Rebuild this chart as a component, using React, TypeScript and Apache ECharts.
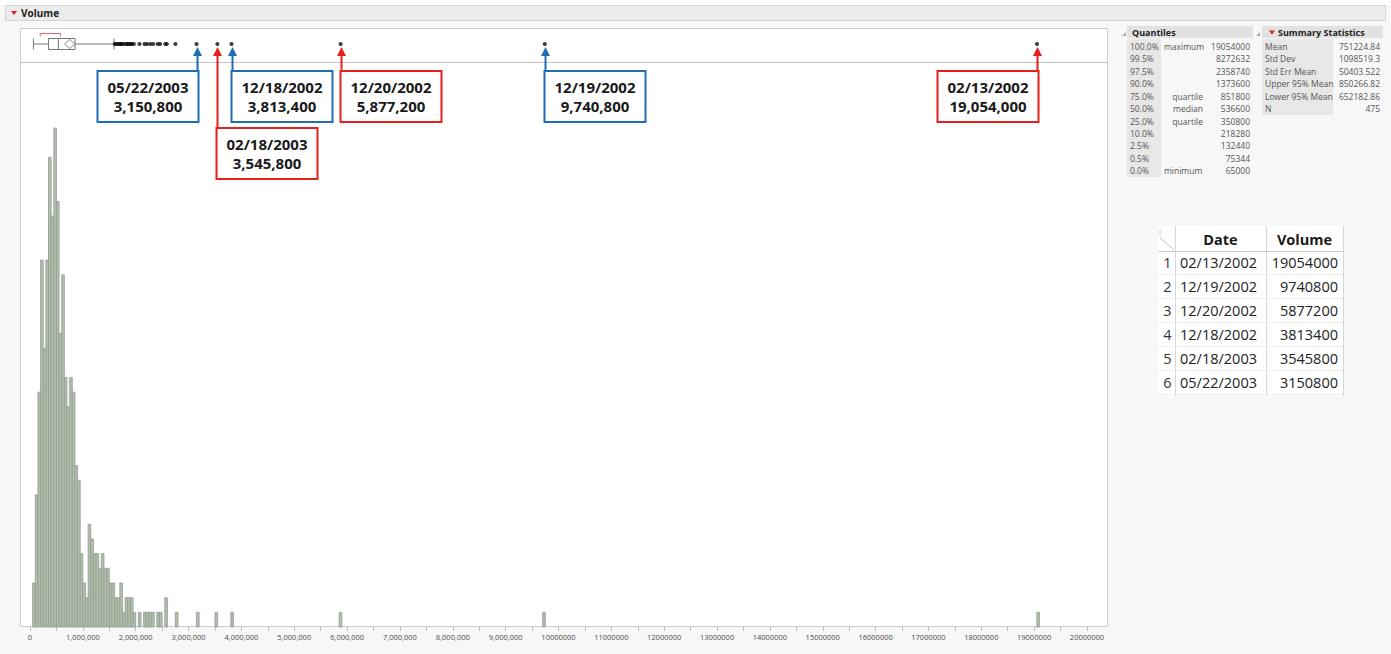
import React, { useEffect, useRef } from 'react';
import * as echarts from 'echarts';

// ---------- DATA ----------
const BIN_WIDTH = 50000;
// histogram counts per 50,000 bin, starting at 0 (bins 0 .. 55)
const binCounts = [
  0, 3, 9, 16, 25, 19, 25, 32, 28, 34,
  29, 20, 24, 17, 15, 17, 16, 11, 10, 5,
  3, 2, 7, 6, 5, 5, 4, 5, 4, 4,
  3, 3, 2, 2, 3, 1, 2, 2, 2, 1,
  0, 1, 0, 1, 1, 1, 1, 0, 1, 1,
  0, 2, 0, 0, 0, 1,
];
// isolated bins far in the tail
const farBinStarts = [3150000, 3500000, 3800000, 5850000, 9700000, 19050000];
const farBinCounts = [1, 1, 1, 1, 1, 1];

// box plot: min whisker, Q1, median, Q3, upper whisker
const boxStats = [65000, 350800, 536600, 851800, 1590000];
const meanValue = 751224.84;
const shortestHalf = [195000, 575000];
const outliers = [
  1605000, 1622000, 1655000, 1688000, 1702000, 1718000, 1745000, 1760000,
  1812000, 1838000, 1851000, 1887000, 1903000, 1928000, 1965000, 2071000,
  2168000, 2213000, 2276000, 2330000, 2418000, 2462000, 2561000, 2588000,
  2752000, 3150800, 3545800, 3813400, 5877200, 9740800, 19054000,
];

const calloutDates = ['05/22/2003', '02/18/2003', '12/18/2002', '12/20/2002', '12/19/2002', '02/13/2002'];
const calloutVolumes = [3150800, 3545800, 3813400, 5877200, 9740800, 19054000];

const quantileLevels = ['100.0%', '99.5%', '97.5%', '90.0%', '75.0%', '50.0%', '25.0%', '10.0%', '2.5%', '0.5%', '0.0%'];
const quantileNames = ['maximum', '', '', '', 'quartile', 'median', 'quartile', '', '', '', 'minimum'];
const quantileValues = ['19054000', '8272632', '2358740', '1373600', '851800', '536600', '350800', '218280', '132440', '75344', '65000'];

const summaryLabels = ['Mean', 'Std Dev', 'Std Err Mean', 'Upper 95% Mean', 'Lower 95% Mean', 'N'];
const summaryValues = ['751224.84', '1098519.3', '50403.522', '850266.82', '652182.86', '475'];

const tableDates = ['02/13/2002', '12/19/2002', '12/20/2002', '12/18/2002', '02/18/2003', '05/22/2003'];
const tableVolumes = [19054000, 9740800, 5877200, 3813400, 3545800, 3150800];

// ---------- STYLE ----------
const BLUE = '#1f6db5';
const RED = '#e3201c';
const CALLOUT_STYLE = [
  { side: 'right', row: 0, color: BLUE },
  { side: 'left', row: 1, color: RED },
  { side: 'left', row: 0, color: BLUE },
  { side: 'left', row: 0, color: RED },
  { side: 'left', row: 0, color: BLUE },
  { side: 'right', row: 0, color: RED },
];
const FONT = '"Open Sans", "Noto Sans", sans-serif';

function fmtAxis(v: number): string {
  if (v < 10000000) return v.toLocaleString('en-US');
  return String(v);
}

function txt(x: number, y: number, text: string, o: any = {}) {
  return {
    type: 'text',
    x,
    y,
    silent: true,
    z: 5,
    style: {
      text,
      fill: o.fill || '#555',
      fontSize: o.size || 8.5,
      fontWeight: o.bold ? 'bold' : 'normal',
      fontFamily: FONT,
      align: o.align || 'left',
      verticalAlign: 'middle',
    },
  };
}
function rect(x: number, y: number, w: number, h: number, fill: string, stroke?: string, z = 1) {
  return {
    type: 'rect',
    silent: true,
    z,
    shape: { x, y, width: w, height: h },
    style: { fill, stroke: stroke || null, lineWidth: 1 },
  };
}
function line(x1: number, y1: number, x2: number, y2: number, stroke: string, z = 2) {
  return {
    type: 'line',
    silent: true,
    z,
    shape: { x1, y1, x2, y2 },
    style: { stroke, lineWidth: 1 },
  };
}

function buildGraphics() {
  const els: any[] = [];
  // top white strip + header bar
  els.push(rect(0, 0, 1391, 5, '#ffffff', undefined, 0));
  els.push(rect(5.5, 5.5, 1380, 15, '#ececec', '#d4d4d4', 1));
  els.push({ type: 'polygon', silent: true, z: 3, shape: { points: [[11, 11], [17, 11], [14, 15]] }, style: { fill: '#d42020' } });
  els.push(txt(21, 13, 'Volume', { bold: true, size: 10, fill: '#222' }));

  // plot frame
  els.push(rect(20.5, 28.5, 1087, 598, '#ffffff', '#cccccc', 0));
  els.push(line(20.5, 62.5, 1107.5, 62.5, '#c4c4c4', 1));

  // Quantiles panel
  els.push({ type: 'polygon', silent: true, z: 3, shape: { points: [[1122, 36], [1126, 32], [1126, 36]] }, style: { fill: '#aaa' } });
  els.push(rect(1127, 26, 126, 12, '#e2e2e2'));
  els.push(txt(1132, 32, 'Quantiles', { bold: true, size: 9, fill: '#222' }));
  els.push(rect(1127, 39, 34, 138, '#e7e7e7'));
  const qStart = 46.3;
  const qStep = 12.45;
  quantileLevels.forEach((lv, i) => {
    const y = qStart + i * qStep;
    els.push(txt(1130, y, lv));
    if (quantileNames[i]) {
      const isEdge = quantileNames[i] === 'maximum' || quantileNames[i] === 'minimum';
      els.push(txt(isEdge ? 1164 : 1203, y, quantileNames[i], { align: isEdge ? 'left' : 'right' }));
    }
    els.push(txt(1250, y, quantileValues[i], { align: 'right' }));
  });

  // Summary Statistics panel
  els.push({ type: 'polygon', silent: true, z: 3, shape: { points: [[1256, 36], [1260, 32], [1260, 36]] }, style: { fill: '#aaa' } });
  els.push(rect(1262, 26, 121, 12, '#e2e2e2'));
  els.push({ type: 'polygon', silent: true, z: 3, shape: { points: [[1269, 30.5], [1275, 30.5], [1272, 34.5]] }, style: { fill: '#d42020' } });
  els.push(txt(1278, 32, 'Summary Statistics', { bold: true, size: 9, fill: '#222' }));
  els.push(rect(1262, 39, 71, 76, '#e7e7e7'));
  summaryLabels.forEach((lb, i) => {
    const y = qStart + i * qStep;
    els.push(txt(1265, y, lb));
    els.push(txt(1380, y, summaryValues[i], { align: 'right' }));
  });

  // Data table
  const tL = 1158;
  const tR = 1343;
  const tTop = 226;
  const tBot = 396;
  const c1 = 1175;
  const c2 = 1266;
  els.push(rect(tL, tTop, tR - tL, tBot - tTop, '#ffffff', undefined, 1));
  els.push(line(c1 + 0.5, tTop, c1 + 0.5, tBot, '#d6d6d6'));
  els.push(line(c2 + 0.5, tTop, c2 + 0.5, tBot, '#d6d6d6'));
  els.push(line(tR + 0.5, tTop, tR + 0.5, tBot, '#d6d6d6'));
  els.push(line(tL, 251.5, tR, 251.5, '#c8c8c8'));
  els.push(line(tL + 2, 238, c1 - 1, 250, '#c0c0c0'));
  els.push(line(tL + 2, 229, tL + 2, 236, '#c8c8c8'));
  els.push(txt((c1 + c2) / 2, 239, 'Date', { bold: true, size: 14.5, fill: '#1a1a1a', align: 'center' }));
  els.push(txt((c2 + tR) / 2, 239, 'Volume', { bold: true, size: 14.5, fill: '#1a1a1a', align: 'center' }));
  tableDates.forEach((d, i) => {
    const y = 262.5 + i * 24;
    els.push(line(tL, y + 12, tR, y + 12, '#ececec'));
    els.push(txt((tL + c1) / 2 + 1, y, String(i + 1), { size: 14.5, fill: '#333', align: 'center' }));
    els.push(txt(1180, y, d, { size: 14.5, fill: '#222' }));
    els.push(txt(1338, y, String(tableVolumes[i]), { size: 14.5, fill: '#222', align: 'right' }));
  });
  return els;
}

export default function App() {
  const ref = useRef<HTMLDivElement>(null);

  useEffect(() => {
    document.body.style.margin = '0';
    if (!ref.current) return;
    const chart = echarts.init(ref.current, undefined, { renderer: 'svg' });

    const histData: number[][] = [];
    binCounts.forEach((c, k) => {
      if (c > 0) histData.push([k * BIN_WIDTH, c, (k + 1) * BIN_WIDTH]);
    });
    farBinStarts.forEach((s, i) => {
      histData.push([s, farBinCounts[i], s + BIN_WIDTH]);
    });

    const option: any = {
      animation: false,
      backgroundColor: '#f7f7f7',
      graphic: { elements: buildGraphics() },
      grid: [
        { left: 30, width: 1057, top: 27, height: 34 },
        { left: 30, width: 1057, top: 62, height: 565 },
      ],
      xAxis: [
        { gridIndex: 0, type: 'value', min: 0, max: 20000000, show: false },
        {
          gridIndex: 1,
          type: 'value',
          min: 0,
          max: 20000000,
          interval: 1000000,
          axisLine: { show: false },
          axisTick: { show: true, length: 4, lineStyle: { color: '#bdbdbd' } },
          minorTick: { show: true, splitNumber: 2, length: 4, lineStyle: { color: '#bdbdbd' } },
          splitLine: { show: false },
          minorSplitLine: { show: false },
          axisLabel: {
            interval: 0,
            formatter: (v: number) => fmtAxis(v),
            fontSize: 7.5,
            fontFamily: FONT,
            color: '#4a4a4a',
            margin: 6,
          },
        },
      ],
      yAxis: [
        { gridIndex: 0, type: 'category', data: ['Volume'], show: false },
        { gridIndex: 1, type: 'value', min: 0, max: 38.5, show: false, splitLine: { show: false } },
      ],
      series: [
        {
          type: 'custom',
          name: 'histogram',
          xAxisIndex: 1,
          yAxisIndex: 1,
          data: histData,
          renderItem: (_p: any, api: any) => {
            const a = api.coord([api.value(0), api.value(1)]);
            const b = api.coord([api.value(2), 0]);
            return {
              type: 'rect',
              shape: { x: a[0], y: a[1], width: b[0] - a[0], height: b[1] - a[1] },
              style: { fill: '#afc0aa', stroke: '#949a93', lineWidth: 0.8 },
            };
          },
        },
        {
          type: 'boxplot',
          xAxisIndex: 0,
          yAxisIndex: 0,
          data: [boxStats],
          boxWidth: [11, 11],
          itemStyle: { color: '#ffffff', borderColor: '#777777', borderWidth: 1 },
        },
        {
          type: 'scatter',
          xAxisIndex: 0,
          yAxisIndex: 0,
          data: [[meanValue, 0]],
          symbol: 'diamond',
          symbolSize: [10, 9],
          itemStyle: { color: 'rgba(0,0,0,0)', borderColor: '#888', borderWidth: 1 },
          z: 4,
        },
        {
          type: 'custom',
          xAxisIndex: 0,
          yAxisIndex: 0,
          data: [[shortestHalf[0], 0, shortestHalf[1]]],
          renderItem: (_p: any, api: any) => {
            const a = api.coord([api.value(0), 0]);
            const b = api.coord([api.value(2), 0]);
            const y = a[1] - 10.5;
            return {
              type: 'polyline',
              shape: { points: [[a[0], y + 3], [a[0], y], [b[0], y], [b[0], y + 3]] },
              style: { stroke: '#e06a6a', lineWidth: 1, fill: null },
            };
          },
        },
        {
          type: 'scatter',
          xAxisIndex: 0,
          yAxisIndex: 0,
          data: outliers.map((v) => [v, 0]),
          symbolSize: 4.2,
          itemStyle: { color: '#111' },
          z: 5,
        },
        {
          type: 'custom',
          name: 'callouts',
          xAxisIndex: 1,
          yAxisIndex: 1,
          clip: false,
          z: 10,
          data: calloutVolumes.map((v) => [v, 0]),
          renderItem: (params: any, api: any) => {
            const i = params.dataIndex;
            const st = CALLOUT_STYLE[i];
            const x = Math.round(api.coord([api.value(0), 0])[0]) + 0.5;
            const W = 101;
            const H = 51;
            const top = st.row === 0 ? 71 : 128;
            const left = st.side === 'right' ? x - W + 1 : x - 1;
            return {
              type: 'group',
              children: [
                { type: 'line', shape: { x1: x, y1: top, x2: x, y2: 54 }, style: { stroke: st.color, lineWidth: 2 } },
                { type: 'polygon', shape: { points: [[x, 47], [x - 4.5, 56], [x + 4.5, 56]] }, style: { fill: st.color } },
                { type: 'rect', shape: { x: left, y: top, width: W, height: H }, style: { fill: '#ffffff', stroke: st.color, lineWidth: 2 } },
                {
                  type: 'text',
                  x: left + W / 2,
                  y: top + 16,
                  style: { text: calloutDates[i], fill: '#1a1a1a', fontSize: 15, fontWeight: 'bold', fontFamily: FONT, align: 'center', verticalAlign: 'middle' },
                },
                {
                  type: 'text',
                  x: left + W / 2,
                  y: top + 35,
                  style: { text: calloutVolumes[i].toLocaleString('en-US'), fill: '#1a1a1a', fontSize: 15, fontWeight: 'bold', fontFamily: FONT, align: 'center', verticalAlign: 'middle' },
                },
              ],
            };
          },
        },
      ],
    };
    chart.setOption(option);
    return () => chart.dispose();
  }, []);

  return <div ref={ref} style={{ width: 1391, height: 654 }} />;
}
